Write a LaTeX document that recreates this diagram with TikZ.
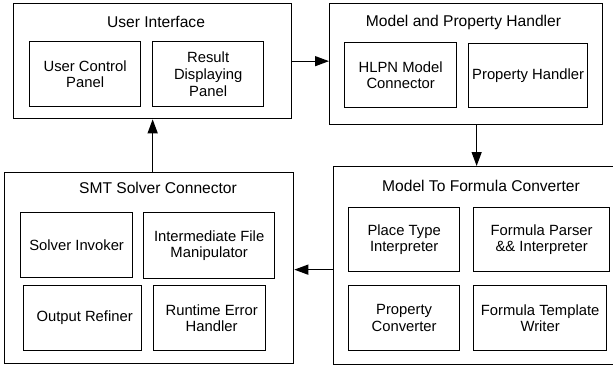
\documentclass[tikz,border=0pt]{standalone}
\usepackage{fontspec}
\setmainfont{Liberation Sans}
\usetikzlibrary{arrows.meta}
\begin{document}
\begin{tikzpicture}[x=1pt,y=-1pt,
  outer/.style={draw, line width=1.3pt, anchor=north west, inner sep=0pt},
  inner/.style={draw, line width=1.3pt, anchor=north west, inner sep=0pt},
  ttl/.style={font=\fontsize{15.6}{18}\selectfont},
  lbl/.style={align=center, font=\fontsize{14.8}{16.8}\selectfont},
  arr/.style={line width=1.3pt, -{Triangle[length=14pt,width=10pt]}}]
\useasboundingbox (0,0) rectangle (613,368);
% User Interface
\node[outer, minimum width=278pt, minimum height=115pt] (ui) at (13,3) {};
\node[ttl] (uit) at (156,22) {User Interface};
\node[inner, minimum width=111pt, minimum height=65pt] (ucp) at (29,41) {};
\node[lbl] (ucpt) at (ucp.center) {User Control\\Panel};
\node[inner, minimum width=111pt, minimum height=65pt] (rdp) at (152,41) {};
\node[lbl] (rdpt) at (rdp.center) {Result\\Displaying\\Panel};
% Model and Property Handler
\node[outer, minimum width=273pt, minimum height=121pt] (mph) at (329,3) {};
\node[ttl] (mpht) at (463.5,22) {Model and Property Handler};
\node[inner, minimum width=112pt, minimum height=65pt] (hlpn) at (344,42) {};
\node[lbl] (hlpnt) at (hlpn.center) {HLPN Model\\Connector};
\node[inner, minimum width=119pt, minimum height=64pt] (ph) at (468,43) {};
\node[lbl] (pht) at (ph.center) {Property Handler};
% SMT Solver Connector
\node[outer, minimum width=289pt, minimum height=191pt] (smt) at (4,172) {};
\node[ttl] (smtt) at (158,188) {SMT Solver Connector};
\node[inner, minimum width=112pt, minimum height=65pt] (si) at (20,212) {};
\node[lbl] (sit) at (si.center) {Solver Invoker};
\node[inner, minimum width=131pt, minimum height=66pt] (ifm) at (143,212) {};
\node[lbl] (ifmt) at (ifm.center) {Intermediate File\\Manipulator};
\node[inner, minimum width=118pt, minimum height=65pt] (or) at (23,285) {};
\node[lbl] (ort) at ([xshift=2pt]or.center) {Output Refiner};
\node[inner, minimum width=112pt, minimum height=65pt] (reh) at (153,285) {};
\node[lbl] (reht) at ([xshift=2pt]reh.center) {Runtime Error\\Handler};
% Model To Formula Converter
\node[outer, minimum width=290pt, minimum height=198pt] (mtfc) at (333,166) {};
\node[ttl] (mtfct) at (481,186) {Model To Formula Converter};
\node[inner, minimum width=111pt, minimum height=64pt] (pti) at (348,207) {};
\node[lbl] (ptit) at (pti.center) {Place Type\\Interpreter};
\node[inner, minimum width=136pt, minimum height=64pt] (fpi) at (473,207) {};
\node[lbl] (fpit) at (fpi.center) {Formula Parser\\\&\& Interpreter};
\node[inner, minimum width=111pt, minimum height=65pt] (pc) at (348,285) {};
\node[lbl] (pct) at (pc.center) {Property\\Converter};
\node[inner, minimum width=133pt, minimum height=65pt] (ftw) at (473,285) {};
\node[lbl] (ftwt) at (ftw.center) {Formula Template\\Writer};
% connectors
\draw[arr] (ui.east) -- (ui.east -| mph.west);
\coordinate (d1) at ([xshift=10.5pt]mph.south);
\draw[arr] (d1) -- (d1 |- mtfc.north);
\coordinate (d2) at ([yshift=-4pt]mtfc.west);
\draw[arr] (d2) -- (d2 -| smt.east);
\draw[arr] (smt.north -| ui.south) -- (ui.south);
\end{tikzpicture}
\end{document}
